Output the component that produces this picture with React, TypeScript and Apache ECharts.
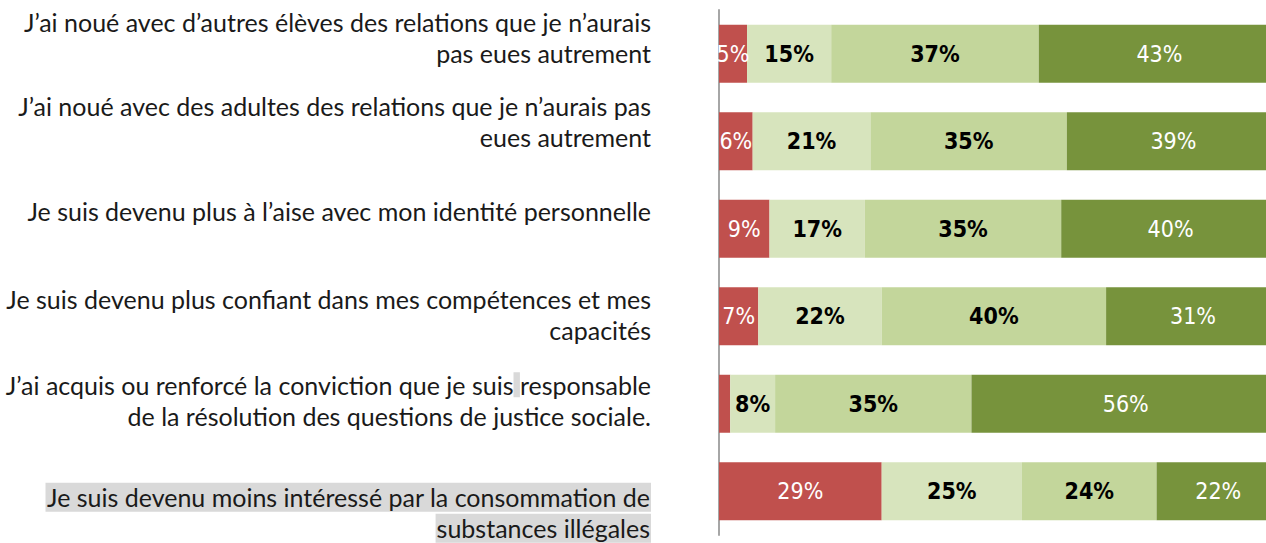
import React, { useEffect, useRef } from "react";
import * as echarts from "echarts";

const categories = [
  "J’ai noué avec d’autres élèves des relations que je n’aurais\npas eues autrement",
  "J’ai noué avec des adultes des relations que je n’aurais pas\neues autrement",
  "Je suis devenu plus à l’aise avec mon identité personnelle",
  "Je suis devenu plus confiant dans mes compétences et mes\ncapacités",
  "J’ai acquis ou renforcé la conviction que je suis responsable\nde la résolution des questions de justice sociale.",
  "Je suis devenu moins intéressé par la consommation de\nsubstances illégales",
];

const seriesNames = ["Pas du tout", "Plutôt non", "Plutôt oui", "Tout à fait"];
const valuesRed = [5, 6, 9, 7, 2, 29];
const valuesLight = [15, 21, 17, 22, 8, 25];
const valuesMid = [37, 35, 35, 40, 35, 24];
const valuesDark = [43, 39, 40, 31, 56, 22];

// layout: vertical offset of first label line relative to bar centre
const labelOffsets = [-32, -35, -18, -17, -19, 6];
const highlightedRow = 5;

const colors = ["#c0504d", "#d7e4bd", "#c3d69b", "#77933c"];
const labelColors = ["#ffffff", "#000000", "#000000", "#ffffff"];
const labelWeights = ["normal", "bold", "bold", "normal"];

export default function App() {
  const ref = useRef<HTMLDivElement>(null);
  useEffect(() => {
    if (!ref.current) return;
    const chart = echarts.init(ref.current, null, { renderer: "svg" });
    const allValues = [valuesRed, valuesLight, valuesMid, valuesDark];
    const option: any = {
      animation: false,
      grid: {
        left: 719,
        width: 561,
        top: 10,
        bottom: 8,
        containLabel: false,
        outerBoundsMode: "none",
      },
      xAxis: { type: "value", min: 0, max: 100, show: false },
      yAxis: {
        type: "category",
        inverse: true,
        data: categories,
        axisLine: { show: true, lineStyle: { color: "#a6a6a6", width: 2 } },
        axisTick: { show: false },
        axisLabel: { show: false },
        splitLine: { show: false },
      },
      series: allValues.map((vals, k) => ({
        name: seriesNames[k],
        type: "bar",
        stack: "total",
        barWidth: 58,
        data: vals,
        itemStyle: { color: colors[k] },
        label: {
          show: true,
          position: "inside",
          formatter: (p: any) => (p.value >= 3 ? p.value + "%" : ""),
          color: labelColors[k],
          fontFamily: "'Liberation Sans Narrow', 'DejaVu Sans Condensed', sans-serif",
          fontWeight: labelWeights[k],
          fontSize: 23,
        },
      })),
    };
    chart.setOption(option);

    const graphics: any[] = [];
    categories.forEach((c, i) => {
      const cy = chart.convertToPixel({ yAxisIndex: 0 }, i) as number;
      const lines = c.split("\n");
      lines.forEach((ln, j) => {
        const isHl = i === highlightedRow;
        const text = i === 4 && j === 0 ? ln.replace("suis responsable", "suis{h| }responsable") : ln;
        graphics.push({
          type: "text",
          x: 651,
          y: cy + labelOffsets[i] + j * 31,
          style: {
            text,
            align: "right",
            verticalAlign: "middle",
            fontFamily: "Lato",
            fontSize: 25,
            lineHeight: 29,
            fill: "#1a1a1a",
            backgroundColor: isHl ? "#d9d9d9" : undefined,
            padding: isHl ? [0, 1, 0, 1] : 0,
            rich: {
              h: { backgroundColor: "#d9d9d9", lineHeight: 26, fontSize: 25, fontFamily: "Lato" },
            },
          },
        });
      });
    });
    chart.setOption({ graphic: graphics });
    return () => chart.dispose();
  }, []);
  return (
    <div
      ref={ref}
      style={{ position: "absolute", left: 0, top: 0, width: 1266, height: 543 }}
    />
  );
}
